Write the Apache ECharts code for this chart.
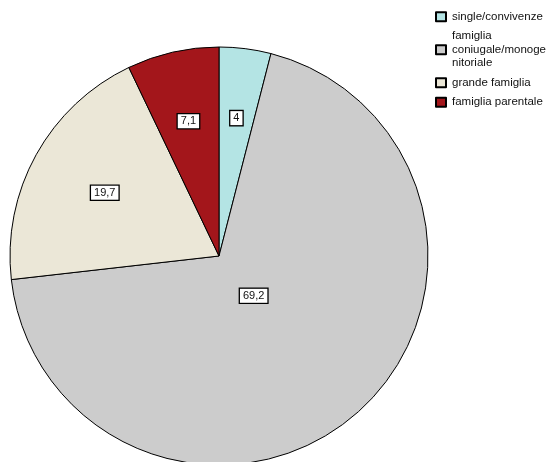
<!DOCTYPE html>
<html>
<head>
<meta charset="utf-8">
<script src="https://cdn.jsdelivr.net/npm/echarts@6/dist/echarts.min.js"></script>
<style>
  html, body { margin: 0; padding: 0; background: #fff; }
  #chart { width: 553px; height: 462px; }
</style>
</head>
<body>
<div id="chart"></div>
<script>
// Household types (percent)
const categories = [
  'single/convivenze',
  'famiglia\nconiugale/monoge\nnitoriale',
  'grande famiglia',
  'famiglia parentale'
];
const values = [4, 69.2, 19.7, 7.1];
const colors = ['#b4e4e4', '#cccccc', '#ebe7d7', '#a3161b'];

// Pie geometry
const CX = 219, CY = 256, R = 209;

const total = values.reduce((a, b) => a + b, 0);

// Each value label sits on the centroid of its sector
function centroid(idx) {
  let before = 0;
  for (let i = 0; i < idx; i++) before += values[i];
  const share = values[idx] / total;
  const half = share * Math.PI;            // half sector angle (rad)
  const mid = (before / total) * 2 * Math.PI + half; // clockwise from top
  const d = (2 * R * Math.sin(half)) / (3 * half);
  return { x: CX + d * Math.sin(mid), y: CY - d * Math.cos(mid) };
}

const chart = echarts.init(document.getElementById('chart'), null, { renderer: 'canvas' });

chart.setOption({
  animation: false,
  textStyle: { fontFamily: 'Liberation Sans, Arial, sans-serif' },
  legend: {
    orient: 'vertical',
    left: 435,
    top: 10,
    padding: 0,
    itemWidth: 10,
    itemHeight: 9,
    itemGap: 6,
    icon: 'rect',
    selectedMode: false,
    textStyle: {
      fontSize: 11.5,
      color: '#111',
      lineHeight: 13.5,
      padding: [0, 0, 0, 1]
    },
    data: categories
  },
  series: [{
    type: 'pie',
    center: [CX, CY],
    radius: R,
    startAngle: 90,
    clockwise: true,
    silent: true,
    itemStyle: { borderColor: '#000', borderWidth: 1 },
    label: {
      show: true,
      position: 'inside',
      formatter: p => String(p.value).replace('.', ','),
      fontSize: 11,
      color: '#111',
      backgroundColor: '#fff',
      borderColor: '#000',
      borderWidth: 1.3,
      padding: [2, 3, 1, 3]
    },
    labelLayout: params => {
      const c = centroid(params.dataIndex);
      return { x: c.x, y: c.y, align: 'center', verticalAlign: 'middle' };
    },
    labelLine: { show: false },
    data: categories.map((name, i) => ({
      name: name,
      value: values[i],
      itemStyle: { color: colors[i] }
    }))
  }]
});
</script>
</body>
</html>
